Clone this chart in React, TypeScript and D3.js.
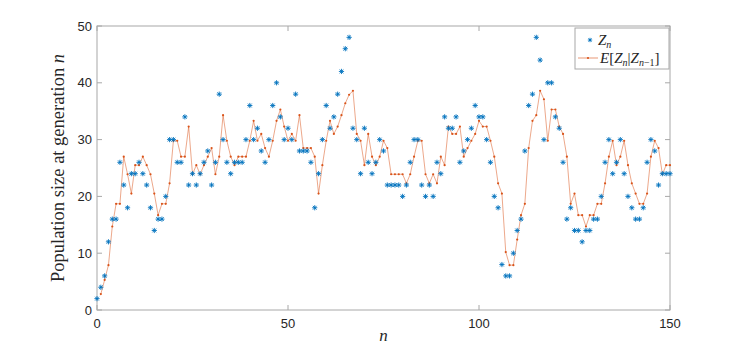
import React from "react";
import * as d3 from "d3";

const zn: number[] = [
  2, 4, 6, 12, 16, 16, 26, 22, 18, 24, 24, 26, 24, 22, 18, 14, 16, 16, 20, 30,
  30, 26, 26, 34, 22, 24, 22, 24, 26, 28, 22, 26, 38, 30, 26, 24, 26, 26, 26, 30,
  36, 30, 32, 28, 26, 30, 36, 40, 34, 30, 32, 30, 38, 28, 28, 28, 26, 18, 24, 30,
  36, 32, 34, 38, 42, 46, 48, 32, 30, 24, 32, 26, 24, 26, 30, 28, 22, 22, 22, 22,
  20, 22, 26, 30, 30, 22, 20, 22, 20, 26, 24, 34, 32, 32, 34, 26, 28, 30, 32, 36,
  34, 34, 30, 26, 20, 18, 8, 6, 6, 10, 14, 16, 28, 36, 38, 48, 44, 30, 40, 40,
  34, 32, 26, 16, 18, 14, 14, 12, 14, 14, 16, 16, 20, 26, 30, 24, 26, 30, 24, 20,
  18, 16, 16, 18, 26, 30, 28, 22, 24, 24, 24,
];

// E[Z_n | Z_{n-1}] for n = 1..150
const en: number[] = [
  2.8, 5.3, 7.9, 14.7, 18.7, 18.7, 27.0, 23.9, 20.5, 25.5,
  25.5, 27.0, 25.5, 23.9, 20.5, 16.7, 18.7, 18.7, 22.3, 29.8,
  29.8, 27.0, 27.0, 32.3, 23.9, 25.5, 23.9, 25.5, 27.0, 28.5,
  23.9, 27.0, 34.3, 29.8, 27.0, 25.5, 27.0, 27.0, 27.0, 29.8,
  33.3, 29.8, 31.0, 28.5, 27.0, 29.8, 33.3, 35.3, 32.3, 29.8,
  31.0, 29.8, 34.3, 28.5, 28.5, 28.5, 27.0, 20.5, 25.5, 29.8,
  33.3, 31.0, 32.3, 34.3, 36.4, 37.9, 38.6, 31.0, 29.8, 25.5,
  31.0, 27.0, 25.5, 27.0, 29.8, 28.5, 23.9, 23.9, 23.9, 23.9,
  22.3, 23.9, 27.0, 29.8, 29.8, 23.9, 22.3, 23.9, 22.3, 27.0,
  25.5, 32.3, 31.0, 31.0, 32.3, 27.0, 28.5, 29.8, 31.0, 33.3,
  32.3, 32.3, 29.8, 27.0, 22.3, 20.5, 10.2, 7.9, 7.9, 12.4,
  16.7, 18.7, 28.5, 33.3, 34.3, 38.6, 37.1, 29.8, 35.3, 35.3,
  32.3, 31.0, 27.0, 18.7, 20.5, 16.7, 16.7, 14.7, 16.7, 16.7,
  18.7, 18.7, 22.3, 27.0, 29.8, 25.5, 27.0, 29.8, 25.5, 22.3,
  20.5, 18.7, 18.7, 20.5, 27.0, 29.8, 28.5, 23.9, 25.5, 25.5,
];

const xTicks = [0, 50, 100, 150];
const yTicks = [0, 10, 20, 30, 40, 50];

const BLUE = "#0072BD";
const ORANGE = "#D95319";
const AXIS = "#262626";
const BOX = "#a8a8a8";

const L = 97, R = 670, T = 26, B = 310;

function Star({ cx, cy, r = 2.6 }: { cx: number; cy: number; r?: number }) {
  const d = r * 0.72;
  return (
    <g stroke={BLUE} strokeWidth={0.9} fill="none">
      <line x1={cx - r} y1={cy} x2={cx + r} y2={cy} />
      <line x1={cx} y1={cy - r} x2={cx} y2={cy + r} />
      <line x1={cx - d} y1={cy - d} x2={cx + d} y2={cy + d} />
      <line x1={cx - d} y1={cy + d} x2={cx + d} y2={cy - d} />
    </g>
  );
}

export default function App() {
  const x = d3.scaleLinear().domain([0, 150]).range([L, R]);
  const y = d3.scaleLinear().domain([0, 50]).range([B, T]);
  const ePts: [number, number][] = en.map((v, i) => [i + 1, v]);
  const line = d3
    .line<[number, number]>()
    .x((d) => x(d[0]))
    .y((d) => y(d[1]));
  const serif = "'Liberation Serif', 'DejaVu Serif', serif";
  const sans = "'Liberation Sans', Arial, sans-serif";
  const tk = 5;

  return (
    <svg
      width={741}
      height={348}
      style={{ position: "absolute", left: 0, top: 0, background: "#fff" }}
    >
      <rect x={0} y={0} width={741} height={348} fill="#fff" />
      <rect x={L} y={T} width={R - L} height={B - T} fill="none" stroke={BOX} strokeWidth={1} />
      {xTicks.map((t) => (
        <g key={"xt" + t} stroke={BOX} strokeWidth={1}>
          <line x1={x(t)} x2={x(t)} y1={B} y2={B - tk} />
          <line x1={x(t)} x2={x(t)} y1={T} y2={T + tk} />
        </g>
      ))}
      {yTicks.map((t) => (
        <g key={"yt" + t} stroke={BOX} strokeWidth={1}>
          <line x1={L} x2={L + tk} y1={y(t)} y2={y(t)} />
          <line x1={R} x2={R - tk} y1={y(t)} y2={y(t)} />
        </g>
      ))}
      {xTicks.map((t) => (
        <text
          key={"xl" + t}
          x={x(t)}
          y={B + 18}
          textAnchor="middle"
          fontFamily={sans}
          fontSize={13}
          fill={AXIS}
        >
          {t}
        </text>
      ))}
      {yTicks.map((t) => (
        <text
          key={"yl" + t}
          x={L - 5}
          y={y(t) + 4.5}
          textAnchor="end"
          fontFamily={sans}
          fontSize={13}
          fill={AXIS}
        >
          {t}
        </text>
      ))}
      <text
        x={(L + R) / 2}
        y={341}
        textAnchor="middle"
        fontFamily={serif}
        fontStyle="italic"
        fontSize={17}
        fill={AXIS}
      >
        n
      </text>
      <text
        transform={`translate(64,${(T + B) / 2}) rotate(-90)`}
        textAnchor="middle"
        fontFamily={serif}
        fontSize={18.5}
        fill={AXIS}
      >
        Population size at generation <tspan fontStyle="italic">n</tspan>
      </text>
      <path d={line(ePts) || ""} fill="none" stroke={ORANGE} strokeWidth={0.6} strokeOpacity={0.85} />
      {ePts.map((d, i) => (
        <circle key={"ed" + i} cx={x(d[0])} cy={y(d[1])} r={1.1} fill={ORANGE} />
      ))}
      {zn.map((v, i) => (
        <Star key={"z" + i} cx={x(i)} cy={y(v)} />
      ))}
      <g>
        <rect x={575} y={28} width={94} height={41} fill="#fff" stroke={BOX} strokeWidth={1} />
        <Star cx={590} cy={40} r={2.2} />
        <text x={598} y={45} fontFamily={serif} fontStyle="italic" fontSize={15} fill={AXIS}>
          Z
          <tspan fontSize={10} dy={3}>n</tspan>
        </text>
        <line x1={578} x2={598} y1={58} y2={58} stroke={ORANGE} strokeWidth={0.6} />
        <circle cx={588} cy={58} r={1.1} fill={ORANGE} />
        <text x={600} y={63} fontFamily={serif} fontSize={15} fill={AXIS}>
          <tspan fontStyle="italic">E</tspan>[<tspan fontStyle="italic">Z</tspan>
          <tspan fontStyle="italic" fontSize={10} dy={3}>n</tspan>
          <tspan dy={-3}>|</tspan>
          <tspan fontStyle="italic">Z</tspan>
          <tspan fontSize={10} dy={3}><tspan fontStyle="italic">n</tspan>−1</tspan>
          <tspan dy={-3}>]</tspan>
        </text>
      </g>
    </svg>
  );
}
